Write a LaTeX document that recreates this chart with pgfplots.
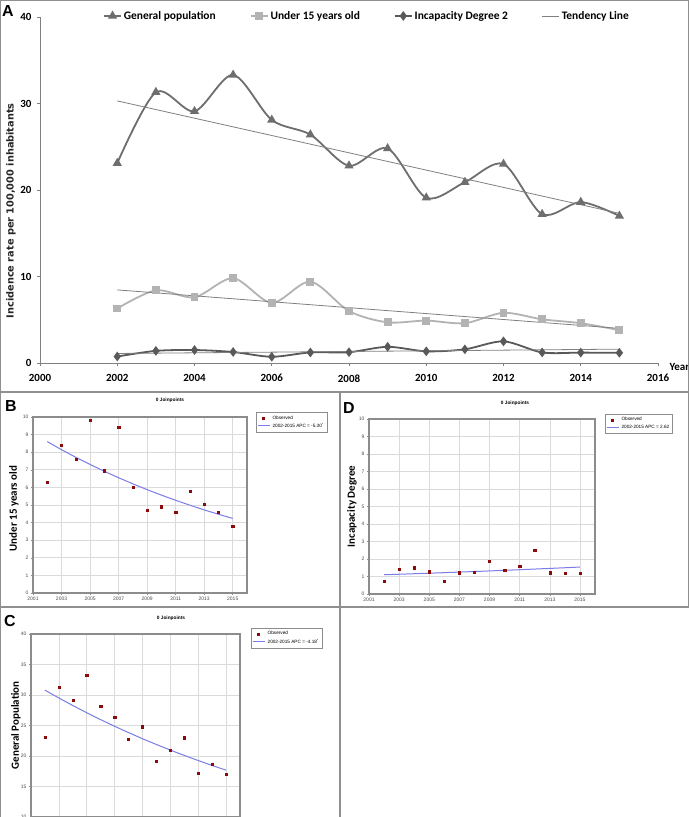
\documentclass[border=0pt]{standalone}
\usepackage{fontspec}
\setmainfont{Carlito}
\newfontfamily\arialf{Liberation Sans}
\newfontfamily\dejavuf{DejaVu Sans}
\usepackage{pgfplots}
\usepackage{pgfplotstable}
\pgfplotsset{compat=1.18}
\definecolor{genpop}{HTML}{6E6E6E}
\definecolor{under}{HTML}{B3B3B3}
\definecolor{incap}{HTML}{595959}
\definecolor{trend}{HTML}{808080}
\definecolor{frameg}{HTML}{8C8C8C}
\definecolor{obsred}{HTML}{8B0A0A}
\definecolor{fitblue}{HTML}{7C7CE6}
\definecolor{gridg}{HTML}{DADADA}
\definecolor{panelg}{HTML}{8F8F8F}

% incidence per 100,000 and joinpoint fitted values
\pgfplotstableread{
year gen  under incap fitgen fitunder fitincap
2002 23.1 6.30  0.75  30.80  8.600   1.100
2003 31.3 8.40  1.40  29.51  8.144   1.129
2004 29.1 7.60  1.50  28.28  7.712   1.158
2005 33.3 9.80  1.27  27.10  7.304   1.189
2006 28.1 6.95  0.72  25.96  6.917   1.220
2007 26.4 9.40  1.22  24.88  6.550   1.252
2008 22.8 6.00  1.25  23.84  6.203   1.285
2009 24.8 4.70  1.87  22.84  5.874   1.318
2010 19.1 4.90  1.35  21.89  5.563   1.353
2011 20.9 4.60  1.58  20.97  5.268   1.388
2012 23.0 5.80  2.50  20.10  4.989   1.425
2013 17.2 5.05  1.22  19.26  4.724   1.462
2014 18.6 4.60  1.20  18.45  4.474   1.500
2015 17.0 3.80  1.18  17.68  4.237   1.540
}\incid

\pgfplotstableread{
year gen  under incap
2002 30.3 8.45  1.10
2015 17.3 4.00  1.60
}\tend

\pgfplotsset{
  jp/.style={
    scale only axis, anchor=south west,
    xmin=2001, xmax=2016,
    xtick={2001,2003,...,2015},
    grid=major, grid style={gridg, line width=0.6bp},
    axis line style={frameg, line width=1.2bp},
    tick style={frameg, line width=0.5bp},
    tick align=outside, major tick length=2bp,
    xtick pos=bottom, ytick pos=left,
    ticklabel style={font=\arialf\fontsize{5}{6}\selectfont, text=black!70},
    /pgf/number format/assume math mode=true,
    /pgf/number format/1000 sep={},
    xticklabel style={yshift=1bp},
    yticklabel style={xshift=1bp},
    ylabel style={font=\bfseries\fontsize{11}{12}\selectfont, anchor=center},
    legend style={font=\arialf\fontsize{4.7}{5.5}\selectfont, draw=frameg,
      line width=0.6bp, inner sep=1.3bp, anchor=north west,
      row sep=-1.5bp},
    legend cell align=left,
  },
  obs/.style={only marks, mark=square*, mark size=1.1bp, obsred,
    legend image code/.code={\draw[##1,mark repeat=2,mark phase=2] plot coordinates {(0bp,0bp) (5bp,0bp) (10bp,0bp)};}},
  fit/.style={no marks, smooth, fitblue, line width=1bp,
    legend image code/.code={\draw[##1] (0bp,0bp) -- (12bp,0bp);}},
}

\begin{document}
\begin{tikzpicture}
\useasboundingbox (0bp,0bp) rectangle (689bp,817bp);
\fill[white] (0bp,0bp) rectangle (689bp,817bp);

% ---- A ----
\begin{axis}[
  scale only axis, anchor=south west, at={(40bp,454bp)},
  width=618bp, height=346bp,
  xmin=2000, xmax=2016, ymin=0, ymax=40,
  xtick={2000,2002,...,2016}, ytick={0,10,...,40},
  axis x line=bottom, axis y line=left,
  axis line style={-, trend, line width=0.8bp},
  tick style={trend, line width=0.6bp}, major tick length=3bp, tick align=outside,
  ticklabel style={font=\bfseries\fontsize{11}{12}\selectfont},
  xticklabel style={yshift=-5bp},
  yticklabel style={xshift=-2bp},
  /pgf/number format/assume math mode=true,
  /pgf/number format/1000 sep={},
  xlabel={Year},
  xlabel style={at={(axis description cs:1,0)}, anchor=west, xshift=8bp, yshift=-4bp, font=\bfseries\fontsize{11}{12}\selectfont},
  ylabel={Incidence rate per 100,000 inhabitants},
  ylabel style={at={(axis description cs:-0.047,0.44)}, anchor=center, text=black!85, font=\dejavuf\bfseries\fontsize{9.8}{11}\selectfont},
  legend columns=4,
  legend style={at={(0.097,1.003)}, anchor=west, draw=none, fill=none,
    font=\bfseries\fontsize{11.5}{12}\selectfont,
    /tikz/every even column/.append style={column sep=32bp}},
]
\addplot[genpop, line width=1.8bp, smooth, mark=triangle*, mark size=3.6bp] table[x=year,y=gen] {\incid};
\addlegendentry{General population}
\addplot[under, line width=1.8bp, smooth, mark=square*, mark size=3bp] table[x=year,y=under] {\incid};
\addlegendentry{Under 15 years old}
\addplot[incap, line width=1.8bp, smooth, mark=diamond*, mark size=3.4bp] table[x=year,y=incap] {\incid};
\addlegendentry{Incapacity Degree 2}
\addplot[trend, line width=0.8bp, no marks] table[x=year,y=gen] {\tend};
\addlegendentry{Tendency Line}
\addplot[trend, line width=0.8bp, no marks, forget plot] table[x=year,y=under] {\tend};
\addplot[trend, line width=0.8bp, no marks, forget plot] table[x=year,y=incap] {\tend};
\end{axis}

% ---- B ----
\begin{axis}[jp, at={(33bp,224bp)}, width=214bp, height=176bp,
  ymin=0, ymax=10, ytick={0,1,...,10},
  ylabel={Under 15 years old},
  ylabel style={at={(axis description cs:-0.089,0.48)}},
  legend style={at={(1.042,1.028)}},
]
\addplot[obs] table[x=year,y=under] {\incid};
\addlegendentry{Observed}
\addplot[fit] table[x=year,y=fitunder] {\incid};
\addlegendentry{2002-2015 APC = -5.30\textsuperscript{*}}
\end{axis}

% ---- D ----
\begin{axis}[jp, at={(369bp,223bp)}, width=226bp, height=175bp,
  ymin=0, ymax=10, ytick={0,1,...,10},
  ylabel={Incapacity Degree},
  ylabel style={at={(axis description cs:-0.075,0.5)}},
  legend style={at={(1.044,1.029)}},
]
\addplot[obs] table[x=year,y=incap] {\incid};
\addlegendentry{Observed}
\addplot[fit] table[x=year,y=fitincap] {\incid};
\addlegendentry{2002-2015 APC = 2.62}
\end{axis}

% ---- C ----
\begin{axis}[jp, at={(31bp,0bp)}, width=209bp, height=183bp,
  ymin=10, ymax=40, ytick={10,15,...,40}, xticklabels={},
  ylabel={General Population},
  ylabel style={at={(axis description cs:-0.072,0.5)}},
  legend style={at={(1.053,1.033)}},
]
\addplot[obs] table[x=year,y=gen] {\incid};
\addlegendentry{Observed}
\addplot[fit] table[x=year,y=fitgen] {\incid};
\addlegendentry{2002-2015 APC = -4.18\textsuperscript{*}}
\end{axis}

% titles, panel letters, borders
\begin{scope}[x=1bp,y=1bp]
\node[font=\arialf\bfseries\fontsize{4.8}{5}\selectfont] at (170,417) {0 Joinpoints};
\node[font=\arialf\bfseries\fontsize{4.8}{5}\selectfont] at (515,414) {0 Joinpoints};
\node[font=\arialf\bfseries\fontsize{4.8}{5}\selectfont] at (171,199) {0 Joinpoints};
\node[font=\arialf\bfseries\fontsize{16}{17}\selectfont] at (8,806) {A};
\node[font=\arialf\bfseries\fontsize{16}{17}\selectfont] at (11,411) {B};
\node[font=\arialf\bfseries\fontsize{16}{17}\selectfont] at (349,409) {D};
\node[font=\arialf\bfseries\fontsize{16}{17}\selectfont] at (10,196) {C};
\draw[panelg, line width=1.5bp] (0.75,0) -- (0.75,816.25) -- (688.25,816.25) -- (688.25,210);
\draw[panelg, line width=1.5bp] (0,425) -- (689,425);
\draw[panelg, line width=1.5bp] (0,210) -- (689,210);
\draw[panelg, line width=1.5bp] (340,0) -- (340,425);
\end{scope}
\end{tikzpicture}
\end{document}
